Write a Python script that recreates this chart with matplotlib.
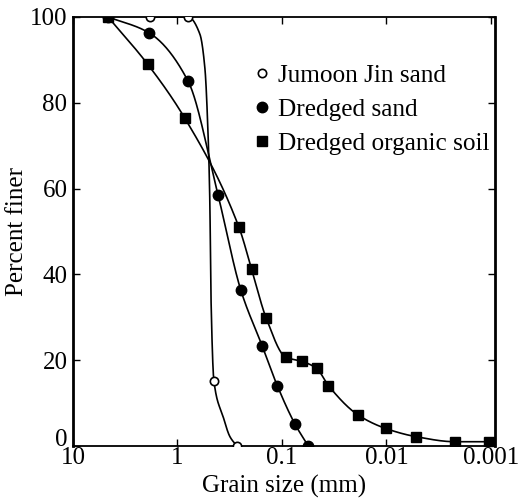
import numpy as np
import matplotlib
matplotlib.use('Agg')
import matplotlib.pyplot as plt
import matplotlib.transforms as mtransforms
from matplotlib.ticker import FixedLocator, NullFormatter

plt.rcParams['font.family'] = ['Liberation Serif', 'DejaVu Serif']

# grain size (mm) / percent finer
jumoon_d = [1.83, 0.79, 0.448, 0.27]
jumoon_p = [100, 100, 15.2, 0]
# extra points (its steep drop)
jumoon_curve_d = [1.83, 0.79, 0.61, 0.546, 0.51, 0.49, 0.478, 0.448, 0.365, 0.315, 0.27]
jumoon_curve_p = [100, 100, 96, 88, 73, 57, 35, 15.2, 6.8, 2.2, 0]

dredged_d = [4.62, 1.87, 0.79, 0.41, 0.248, 0.155, 0.111, 0.075, 0.056]
dredged_p = [100, 96.3, 85.0, 58.6, 36.4, 23.4, 14.1, 5.1, 0]

organic_d = [4.62, 1.93, 0.85, 0.258, 0.195, 0.142, 0.092, 0.064, 0.0466,
             0.036, 0.0186, 0.0102, 0.00526, 0.00221, 0.00104]
organic_p = [100, 89.0, 76.4, 51.0, 41.2, 29.9, 20.7, 19.7, 18.1,
             14.1, 7.2, 4.1, 2.2, 1.0, 1.0]

labels = ['Jumoon Jin sand', 'Dredged sand', 'Dredged organic soil']
x_ticks = [10, 1, 0.1, 0.01, 0.001]
x_ticklabels = ['10', '1', '0.1', '0.01', '0.001']
y_ticks = [0, 20, 40, 60, 80, 100]


def pchip_curve(d, p, n=60):
    # monotone cubic through the points, in -log10(d) space
    u = -np.log10(np.asarray(d, float))
    y = np.asarray(p, float)
    h = np.diff(u)
    delta = np.diff(y) / h
    m = np.zeros_like(y)
    m[0], m[-1] = delta[0], delta[-1]
    for k in range(1, len(y) - 1):
        if delta[k - 1] * delta[k] > 0:
            w1 = 2 * h[k] + h[k - 1]
            w2 = h[k] + 2 * h[k - 1]
            m[k] = (w1 + w2) / (w1 / delta[k - 1] + w2 / delta[k])
    uu, yy = [], []
    for k in range(len(h)):
        t = np.linspace(0, 1, n)
        h00 = 2 * t**3 - 3 * t**2 + 1
        h10 = t**3 - 2 * t**2 + t
        h01 = -2 * t**3 + 3 * t**2
        h11 = t**3 - t**2
        uu.append(u[k] + t * h[k])
        yy.append(h00 * y[k] + h10 * h[k] * m[k] + h01 * y[k + 1] + h11 * h[k] * m[k + 1])
    return 10 ** (-np.concatenate(uu)), np.concatenate(yy)


fig = plt.figure(figsize=(5.21, 5.03), dpi=100)
ax = fig.add_axes([0.140, 0.1133, 0.810, 0.853])

cx, cy = pchip_curve(jumoon_curve_d, jumoon_curve_p)
ax.plot(cx, cy, color='black', lw=1.2, zorder=2)
cx, cy = pchip_curve(dredged_d, dredged_p)
ax.plot(cx, cy, color='black', lw=1.2, zorder=2)
cx, cy = pchip_curve(organic_d, organic_p)
ax.plot(cx, cy, color='black', lw=1.2, zorder=2)

ax.plot(organic_d, organic_p, 's', color='black', ms=7, ls='none',
        label=labels[2], zorder=3)
ax.plot(dredged_d, dredged_p, 'o', color='black', ms=7.5, ls='none',
        label=labels[1], zorder=4)
ax.plot(jumoon_d, jumoon_p, 'o', mfc='white', mec='black', mew=1.2, ms=6,
        ls='none', label=labels[0], zorder=5)

ax.set_xscale('log')
ax.set_xlim(10, 0.000916)
ax.set_ylim(0, 100)
ax.set_xticks(x_ticks)
ax.set_xticklabels(x_ticklabels)
ax.xaxis.set_minor_locator(FixedLocator([]))
ax.xaxis.set_minor_formatter(NullFormatter())
ax.set_yticks(y_ticks)
ax.tick_params(axis='both', which='major', direction='in', length=5, width=1,
               labelsize=18, top=True, right=True)
ax.tick_params(axis='x', pad=1)
ax.tick_params(axis='y', pad=4)
for s in ['left', 'right']:
    ax.spines[s].set_linewidth(2.0)
for s in ['top', 'bottom']:
    ax.spines[s].set_linewidth(1.3)

# the "0" sits a little above the corner, clear of the "10"
ylabs = ax.get_yticklabels()
ylabs[0].set_transform(ylabs[0].get_transform() +
                       mtransforms.ScaledTranslation(0, 6 / 72, fig.dpi_scale_trans))

ax.set_xlabel('Grain size (mm)', fontsize=18, labelpad=4)
ax.set_ylabel('Percent finer', fontsize=18, labelpad=1)

handles, labs = ax.get_legend_handles_labels()
order = [2, 1, 0]
ax.legend([handles[i] for i in order], [labs[i] for i in order],
          loc='upper left', bbox_to_anchor=(0.431, 0.890), frameon=False,
          fontsize=18.2, handlelength=0.6, handletextpad=0.3,
          labelspacing=0.45, borderaxespad=0, borderpad=0)

fig.savefig('out.png', dpi=100)
